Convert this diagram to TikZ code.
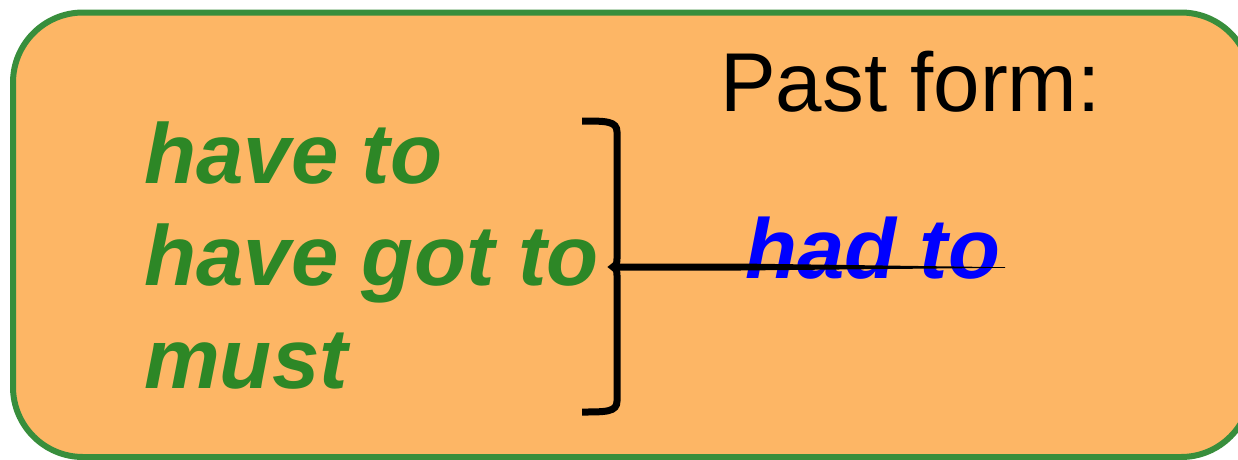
\documentclass[tikz,border=0pt]{standalone}
\usepackage{fontspec}
\setmainfont{Liberation Sans}
\usetikzlibrary{calc}
\definecolor{boxfill}{RGB}{253,182,101}
\definecolor{boxline}{RGB}{56,142,60}
\definecolor{modalgreen}{RGB}{45,135,38}
\definecolor{pastblue}{RGB}{0,0,255}
\begin{document}
\begin{tikzpicture}[x=1pt,y=-1pt,
  panel/.style={draw=boxline, fill=boxfill, line width=6pt, rounded corners=70pt},
  modal/.style={anchor=base west, inner sep=0pt, text=modalgreen,
    font=\fontsize{85.2}{100}\selectfont\bfseries\itshape},
  pastlabel/.style={anchor=base west, inner sep=0pt, text=black,
    font=\fontsize{83.5}{98}\selectfont},
  pastform/.style={anchor=base west, inner sep=0pt, text=pastblue,
    font=\fontsize{85}{100}\selectfont\bfseries\itshape},
  bracestyle/.style={draw=black, line width=7pt, line cap=butt, line join=miter},
]
\useasboundingbox (0,0) rectangle (1238,459);
\begin{scope}
  \clip (0,0) rectangle (1238,459);
  \path[panel] (13,12.5) rectangle (1251,457);
\end{scope}

\node[modal] (m1) at (144,183) {have to};
\node[modal] (m2) at (144,285) {have got to};
\node[modal] (m3) at (144,388) {must};
\node[pastlabel] (past) at (720,111) {Past form:};
\node[pastform] (had) at (745,278) {had to};

\coordinate (tip) at (613,267);
\coordinate (lineend) at (1005,267.5);

\draw[bracestyle] (582,121) .. controls (606,121) and (617,121) .. (617,132)
  -- (617,256) .. controls (617,264) .. (tip)
  .. controls (617,270) .. (617,278)
  -- (617,401) .. controls (617,412) and (606,412) .. (582,412);

\fill[black] ($(tip)+(4,-3.5)$) -- ($(tip)+(127,-3.5)$) -- ($(lineend)+(0,-0.3)$)
  -- ($(lineend)+(0,0.3)$) -- ($(tip)+(127,3.5)$) -- ($(tip)+(4,3.5)$) -- cycle;
\end{tikzpicture}
\end{document}
